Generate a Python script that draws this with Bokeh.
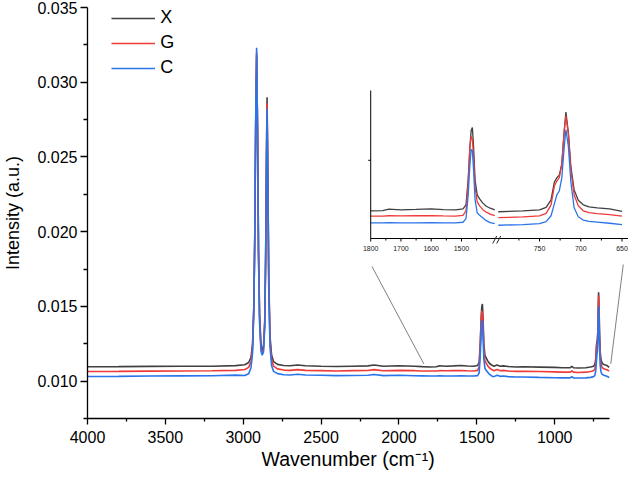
from bokeh.plotting import figure
from bokeh.models import (Range1d, FixedTicker, PrintfTickFormatter, Legend, LegendItem,
                          Title, ColumnDataSource)
from bokeh.core.properties import value
from bokeh.embed import file_html
from bokeh.resources import INLINE

# ---------------- data ----------------
wavenumber = [4000, 3800, 3600, 3400, 3200, 3050, 2990, 2965, 2950, 2940,
              2932, 2926, 2920, 2914, 2908, 2902, 2895, 2886, 2878, 2870,
              2862, 2856, 2851, 2847, 2842, 2836, 2828, 2818, 2805, 2780,
              2740, 2700, 2650, 2600, 2500, 2400, 2300, 2200, 2160, 2100,
              2000, 1900, 1850, 1800, 1760, 1740, 1700, 1650, 1600, 1560,
              1520, 1495, 1485, 1478, 1472, 1468, 1464, 1460, 1455, 1448,
              1440, 1430, 1418, 1405, 1390, 1370, 1350, 1330, 1300, 1250,
              1200, 1100, 1000, 950, 900, 890, 880, 850, 800, 770,
              750, 742, 736, 732, 729, 726, 723, 720, 718, 715,
              712, 708, 703, 697, 690, 680, 665, 650]

x_series = [0.01096, 0.01097, 0.01099, 0.01100, 0.01100, 0.01104, 0.01110, 0.01125, 0.01160, 0.01250,
            0.01500, 0.01950, 0.02700, 0.03180, 0.02700, 0.01900, 0.01450, 0.01250, 0.01205, 0.01230,
            0.01400, 0.01850, 0.02500, 0.02900, 0.02400, 0.01700, 0.01300, 0.01175, 0.01130, 0.01112,
            0.01105, 0.01103, 0.01108, 0.01103, 0.01100, 0.01098, 0.01100, 0.01102, 0.01108, 0.01100,
            0.01103, 0.01100, 0.01097, 0.01095, 0.01096, 0.01103, 0.01100, 0.01102, 0.01105, 0.01101,
            0.01100, 0.01105, 0.01125, 0.01250, 0.01420, 0.01500, 0.01516, 0.01420, 0.01250, 0.01175,
            0.01155, 0.01135, 0.01118, 0.01108, 0.01100, 0.01108, 0.01100, 0.01102, 0.01098, 0.01095,
            0.01096, 0.01094, 0.01092, 0.01090, 0.01090, 0.01098, 0.01090, 0.01088, 0.01090, 0.01095,
            0.01100, 0.01112, 0.01150, 0.01240, 0.01262, 0.01275, 0.01330, 0.01500, 0.01594, 0.01490,
            0.01320, 0.01200, 0.01148, 0.01125, 0.01115, 0.01110, 0.01105, 0.01092]

g_series = [0.01064, 0.01065, 0.01067, 0.01068, 0.01069, 0.01072, 0.01078, 0.01092, 0.01130, 0.01225,
            0.01490, 0.01950, 0.02720, 0.03200, 0.02680, 0.01870, 0.01420, 0.01225, 0.01185, 0.01210,
            0.01380, 0.01820, 0.02460, 0.02860, 0.02360, 0.01660, 0.01270, 0.01145, 0.01100, 0.01082,
            0.01074, 0.01072, 0.01077, 0.01072, 0.01070, 0.01068, 0.01070, 0.01071, 0.01077, 0.01069,
            0.01072, 0.01070, 0.01068, 0.01068, 0.01068, 0.01070, 0.01069, 0.01070, 0.01071, 0.01069,
            0.01068, 0.01072, 0.01095, 0.01230, 0.01420, 0.01470, 0.01455, 0.01370, 0.01215, 0.01140,
            0.01120, 0.01102, 0.01088, 0.01078, 0.01070, 0.01078, 0.01070, 0.01072, 0.01068, 0.01065,
            0.01066, 0.01064, 0.01062, 0.01060, 0.01060, 0.01068, 0.01060, 0.01058, 0.01060, 0.01064,
            0.01069, 0.01082, 0.01125, 0.01220, 0.01245, 0.01262, 0.01330, 0.01500, 0.01575, 0.01480,
            0.01300, 0.01175, 0.01120, 0.01095, 0.01086, 0.01081, 0.01076, 0.01068]

c_series = [0.01031, 0.01032, 0.01034, 0.01035, 0.01036, 0.01040, 0.01038, 0.01050, 0.01090, 0.01190,
            0.01470, 0.01960, 0.02750, 0.03230, 0.02650, 0.01830, 0.01390, 0.01200, 0.01174, 0.01195,
            0.01360, 0.01790, 0.02420, 0.02820, 0.02320, 0.01620, 0.01230, 0.01105, 0.01065, 0.01050,
            0.01043, 0.01041, 0.01046, 0.01041, 0.01039, 0.01037, 0.01038, 0.01039, 0.01044, 0.01037,
            0.01039, 0.01036, 0.01035, 0.01034, 0.01034, 0.01035, 0.01034, 0.01034, 0.01035, 0.01034,
            0.01034, 0.01037, 0.01055, 0.01170, 0.01330, 0.01405, 0.01400, 0.01300, 0.01150, 0.01085,
            0.01072, 0.01060, 0.01045, 0.01035, 0.01030, 0.01040, 0.01032, 0.01034, 0.01030, 0.01028,
            0.01028, 0.01025, 0.01023, 0.01022, 0.01022, 0.01030, 0.01022, 0.01021, 0.01022, 0.01025,
            0.01030, 0.01040, 0.01070, 0.01130, 0.01175, 0.01195, 0.01260, 0.01420, 0.01505, 0.01420,
            0.01240, 0.01110, 0.01065, 0.01048, 0.01042, 0.01038, 0.01032, 0.01025]

series_names = ["X", "G", "C"]
series_values = [x_series, g_series, c_series]
series_colors = ["#404040", "#f03a3a", "#2a74ea"]

for s in series_values:
    assert len(s) == len(wavenumber)

x_major = [4000, 3500, 3000, 2500, 2000, 1500, 1000]
x_minor = [3750, 3250, 2750, 2250, 1750, 1250, 750]
y_major = [0.010, 0.015, 0.020, 0.025, 0.030, 0.035]
y_minor = [0.0075, 0.0125, 0.0175, 0.0225, 0.0275, 0.0325]

inset_left_range = (1800, 1390)
inset_right_range = (800, 650)
inset_left_major = [1800, 1700, 1600, 1500]
inset_left_minor = [1750, 1650, 1550, 1450]
inset_right_major = [750, 700, 650]
inset_right_minor = [775, 725, 675]
inset_y_range = (0.00955, 0.017025)
inset_y_major = [0.0135]

# ---------------- layout ----------------
W, H = 628, 471
BL, BR, BT, BB = 87, 0, 7, 53
X0, X1 = 4000, 526
Y0, Y1 = 0.0075, 0.035
FW, FH = W - BL - BR, H - BT - BB
K = (W - 87.3) / (636 - 87.3)   # horizontal squeeze vs. the reference


def sx(x_ref):  # reference px -> canvas px
    return BL + (x_ref - 87.3) * K


def main_x(px):  # canvas px -> main wavenumber
    return X0 - (px - BL) / FW * (X0 - X1)


def main_y(py):  # canvas px -> main intensity
    return Y0 + (BT + FH - py) / FH * (Y1 - Y0)


p = figure(width=W, height=H, x_range=Range1d(X0, X1), y_range=Range1d(Y0, Y1),
           output_backend="svg", toolbar_location=None,
           min_border_left=BL, min_border_right=BR, min_border_top=BT, min_border_bottom=BB)
p.outline_line_color = None
p.xgrid.visible = False
p.ygrid.visible = False
p.background_fill_color = "white"

FONT = "Liberation Sans"

xa = p.xaxis[0]
xa.ticker = FixedTicker(ticks=x_major, minor_ticks=x_minor)
xa.bounds = (650, 4000)
xa.axis_line_width = 1.3
xa.major_tick_line_width = 1.3
xa.minor_tick_line_width = 1.3
xa.major_tick_in = 0
xa.major_tick_out = 6
xa.minor_tick_in = 0
xa.minor_tick_out = 3
xa.major_label_text_font = FONT
xa.major_label_text_font_size = "16px"
xa.major_label_text_color = "black"
xa.major_label_standoff = 6

ya = p.yaxis[0]
ya.ticker = FixedTicker(ticks=y_major, minor_ticks=y_minor)
ya.formatter = PrintfTickFormatter(format="%.3f")
ya.axis_line_width = 1.3
ya.major_tick_line_width = 1.3
ya.minor_tick_line_width = 1.3
ya.major_tick_in = 0
ya.major_tick_out = 7
ya.minor_tick_in = 0
ya.minor_tick_out = 4
ya.major_label_text_font = FONT
ya.major_label_text_font_size = "16px"
ya.major_label_text_color = "black"
ya.major_label_standoff = 3
ya.axis_label = "Intensity (a.u.)"
ya.axis_label_text_font = FONT
ya.axis_label_text_font_size = "18px"
ya.axis_label_text_font_style = "normal"
ya.axis_label_text_color = "black"
ya.axis_label_standoff = 11

p.add_layout(Title(text="Wavenumber (cm\u207b\u00b9)", align="left", offset=174,
                   text_font=FONT, text_font_size="19.5px", text_font_style="normal",
                   text_color="black", standoff=0), "below")

# ---------------- main spectra ----------------
main_src = ColumnDataSource(dict(wn=wavenumber, X=x_series, G=g_series, C=c_series))
items = []
for name, color in zip(series_names, series_colors):
    r = p.line("wn", name, source=main_src, line_color=color, line_width=1.6)
    items.append(LegendItem(label=name, renderers=[r]))

legend = Legend(items=items, location=(sx(112) - BL, BT + FH - 78.3),
                glyph_width=44, glyph_height=20,
                label_height=20, spacing=4, padding=0, margin=0, label_standoff=5,
                label_text_font=FONT, label_text_font_size="18px", label_text_color="black",
                border_line_color=None, background_fill_alpha=0)
p.add_layout(legend)

# ---------------- inset ----------------
IN_LEFT, IN_TOP, IN_BOTTOM = sx(374.7), 90.0, 238.0
L_PX_PER = 0.307 * K        # px per cm-1, left part
R_PX_PER = 0.837 * K        # px per cm-1, right part
R_750_PX = sx(546.0)
L_END_PX = IN_LEFT + (inset_left_range[0] - inset_left_range[1]) * L_PX_PER
R_START_PX = R_750_PX - (inset_right_range[0] - 750) * R_PX_PER
R_END_PX = R_750_PX + (750 - inset_right_range[1]) * R_PX_PER
Y_PER_PX = (inset_y_range[1] - inset_y_range[0]) / (IN_BOTTOM - IN_TOP)

y_src = Range1d(inset_y_range[0], inset_y_range[1])
y_tgt = Range1d(main_y(IN_BOTTOM), main_y(IN_TOP))
left = p.subplot(x_source=Range1d(inset_left_range[1], inset_left_range[0]), y_source=y_src,
                 x_target=Range1d(main_x(L_END_PX), main_x(IN_LEFT)), y_target=y_tgt)
right = p.subplot(x_source=Range1d(inset_right_range[1], inset_right_range[0]), y_source=y_src,
                  x_target=Range1d(main_x(R_END_PX), main_x(R_START_PX)), y_target=y_tgt)


def subset(lo, hi):
    idx = [i for i, w in enumerate(wavenumber) if lo <= w <= hi]
    return ColumnDataSource(dict(wn=[wavenumber[i] for i in idx],
                                 X=[x_series[i] for i in idx],
                                 G=[g_series[i] for i in idx],
                                 C=[c_series[i] for i in idx]))


src_l = subset(inset_left_range[1], inset_left_range[0])
src_r = subset(inset_right_range[1], inset_right_range[0])
for name, color in zip(series_names, series_colors):
    left.line("wn", name, source=src_l, line_color=color, line_width=1.3)
    right.line("wn", name, source=src_r, line_color=color, line_width=1.3)

yb = inset_y_range[0]
ax_kw = dict(line_color="black", line_width=1)
# inset axes
left.segment(x0=[1800, 1800], y0=[yb, yb], x1=[1800, 1800 - 403 * K / L_PX_PER],
             y1=[inset_y_range[1], yb], **ax_kw)
right.segment(x0=[797], y0=[yb], x1=[650], y1=[yb], **ax_kw)
# ticks
left.segment(x0=inset_left_major, y0=[yb] * 4, x1=inset_left_major, y1=[yb - 3 * Y_PER_PX] * 4, **ax_kw)
left.segment(x0=inset_left_minor, y0=[yb] * 4, x1=inset_left_minor, y1=[yb - 2 * Y_PER_PX] * 4, **ax_kw)
right.segment(x0=inset_right_major, y0=[yb] * 3, x1=inset_right_major, y1=[yb - 3 * Y_PER_PX] * 3, **ax_kw)
right.segment(x0=inset_right_minor, y0=[yb] * 3, x1=inset_right_minor, y1=[yb - 2 * Y_PER_PX] * 3, **ax_kw)
left.segment(x0=[1800], y0=inset_y_major, x1=[1800 + 2.5 / L_PX_PER], y1=inset_y_major, **ax_kw)
# break marks //
bx = 1800 - (sx(498.5) - IN_LEFT) / L_PX_PER
left.segment(x0=[bx, bx - 4 / L_PX_PER], y0=[yb - 5 * Y_PER_PX] * 2,
             x1=[bx - 4 / L_PX_PER, bx - 8 / L_PX_PER], y1=[yb + 2.5 * Y_PER_PX] * 2,
             line_color="#222222", line_width=1)
# tick labels
lbl_kw = dict(text_font=value(FONT), text_font_size="7px", text_color="#222222",
              text_align="center", text_baseline="middle")
left.text(x=inset_left_major, y=[yb - 9.7 * Y_PER_PX] * 4,
          text=[str(t) for t in inset_left_major], **lbl_kw)
right.text(x=inset_right_major, y=[yb - 9.7 * Y_PER_PX] * 3,
           text=[str(t) for t in inset_right_major], **lbl_kw)

# connector lines
conn_top_x = [main_x(sx(376)), main_x(sx(631))]
conn_top_y = [main_y(266), main_y(264)]
conn_bot_x = [1840, 640]
conn_bot_y = [0.01115, 0.01115]
p.segment(x0=conn_top_x, y0=conn_top_y, x1=conn_bot_x, y1=conn_bot_y,
          line_color="#606060", line_width=0.8)

open("out.html", "w").write(file_html(p, INLINE))
